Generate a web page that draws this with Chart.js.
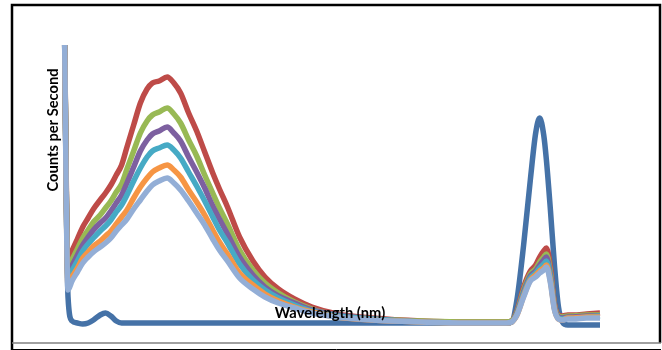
<!DOCTYPE html>
<html>
<head>
<meta charset="utf-8">
<script src="https://cdn.jsdelivr.net/npm/chart.js@4/dist/chart.umd.min.js"></script>
<style>
  html, body { margin: 0; padding: 0; background: #fff; }
  #wrap { position: relative; width: 662px; height: 350px; }
</style>
</head>
<body>
<div id="wrap"><canvas id="c" width="662" height="350"></canvas></div>
<script>
// Wavelength grid (nm)
const wavelengths = [300,303,306,310,314,318,322,327,331,335,339,343,347,352,357,362,366,371,377,382,387,393,399,405,411,416,422,431,441,450,460,472,485,504,530,567,600,630,634,638,643,648,652,655,658,660,663,666,669,672,676,680,690,700];

// Counts per second (arbitrary units) per series
const series1 = [340,28,4,2,1,2,5,10,12,9,4,2,2,2,2,2,2,2,2,2,2,2,2,2,2,2,2,2,2,2,2,2,2,2,2,2,2,2,3,25,80,145,192,207,190,165,115,60,18,3,0,0,0,0];
const series2 = [340,62,74,86,98,107,116,125,132,140,150,160,178,200,222,236,242,244,248,242,232,212,194,173,152,136,118,88,64,48,36,26,18,11,7,4,3,3,4,14,38,54,60,68,74,77,58,22,10,9,10,10,11,12];
const series3 = [340,54,65,76,87,95,103,110,117,124,133,141,156,174,192,204,210,213,217,211,202,185,169,150,132,117,101,75,55,42,32,23,16,10,6,4,3,3,4,13,35,51,56,63,68,71,53,20,9,8,9,9,10,10];
const series4 = [340,48,59,70,80,88,95,102,107,114,122,130,142,158,174,185,191,194,198,192,184,168,153,137,119,106,91,68,50,38,29,22,15,10,6,3,2,2,3,12,33,49,54,60,65,68,50,19,8,7,8,8,9,9];
const series5 = [340,44,54,64,74,81,87,94,99,105,113,120,130,144,157,168,174,177,180,175,167,153,139,124,108,95,82,61,45,35,27,20,14,9,6,3,2,2,3,11,31,47,52,57,61,64,47,17,7,6,7,7,8,9];
const series6 = [340,39,48,57,67,73,79,84,89,94,101,108,115,127,138,147,153,157,160,155,148,135,123,110,95,83,71,52,40,31,24,18,13,8,5,3,2,2,3,10,29,45,50,54,57,60,44,16,6,5,7,7,8,8];
const series7 = [340,35,44,53,62,68,73,78,82,87,94,100,106,116,125,134,140,144,147,142,135,124,112,100,86,75,64,47,36,28,22,17,12,8,5,3,2,2,3,10,28,44,48,52,55,58,42,15,6,5,6,6,7,7];

const allSeries = [series1, series2, series3, series4, series5, series6, series7];
const colors = ['#4572A7','#BE4B48','#98B954','#7D60A0','#46AAC5','#F69544','#93AED6'];

const toPts = arr => arr.map((v, i) => ({ x: wavelengths[i], y: v }));

const datasets = allSeries.map((arr, i) => ({
  label: 'Series ' + (i + 1),
  data: toPts(arr),
  borderColor: colors[i],
  backgroundColor: colors[i],
  borderWidth: 5.5,
  pointRadius: 0,
  fill: false,
  cubicInterpolationMode: 'monotone',
  order: allSeries.length - i,
  clip: { left: 10, right: 10, top: 0, bottom: 10 }
}));

const decor = {
  id: 'decor',
  beforeDraw(chart) {
    const ctx = chart.ctx;
    ctx.save();
    ctx.fillStyle = '#ffffff';
    ctx.fillRect(0, 0, chart.width, chart.height);
    ctx.restore();
  },
  afterDatasetsDraw(chart) {
    const ctx = chart.ctx;
    ctx.save();
    ctx.fillStyle = '#000';
    ctx.font = 'bold 14.7px Lato, "Open Sans", sans-serif';
    ctx.textAlign = 'center';
    ctx.textBaseline = 'middle';
    ctx.fillText('Wavelength (nm)', 330, 313);
    ctx.translate(53, 130);
    ctx.rotate(-Math.PI / 2);
    ctx.fillText('Counts per Second', 0, 0);
    ctx.restore();
  },
  afterDraw(chart) {
    const ctx = chart.ctx;
    ctx.save();
    ctx.strokeStyle = '#000';
    ctx.lineWidth = 2.5;
    ctx.beginPath();
    ctx.moveTo(12, 350);
    ctx.lineTo(12, 5);
    ctx.lineTo(660, 5);
    ctx.lineTo(660, 343);
    ctx.stroke();
    ctx.strokeStyle = '#808080';
    ctx.lineWidth = 1.5;
    ctx.beginPath();
    ctx.moveTo(12, 343);
    ctx.lineTo(661, 343);
    ctx.stroke();
    ctx.strokeStyle = '#000';
    ctx.lineWidth = 1;
    ctx.beginPath();
    ctx.moveTo(12, 349.5);
    ctx.lineTo(661, 349.5);
    ctx.stroke();
    ctx.restore();
  }
};

new Chart(document.getElementById('c'), {
  type: 'line',
  data: { datasets },
  options: {
    responsive: false,
    animation: false,
    layout: { padding: { left: 64, right: 62, top: 45, bottom: 25 } },
    plugins: { legend: { display: false }, tooltip: { enabled: false } },
    scales: {
      x: { type: 'linear', min: 300, max: 700, display: false },
      y: { min: 0, max: 280, display: false }
    }
  },
  plugins: [decor]
});
</script>
</body>
</html>
